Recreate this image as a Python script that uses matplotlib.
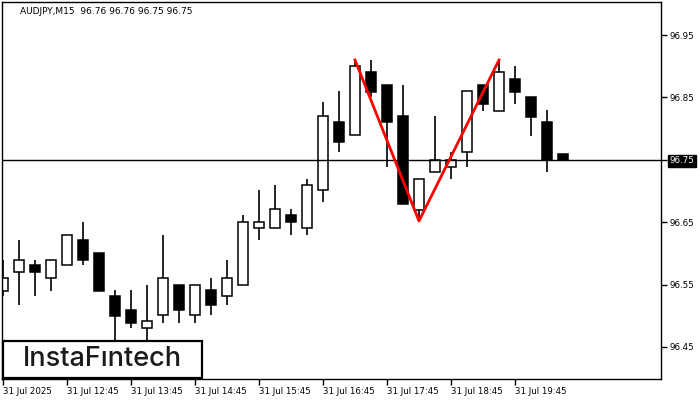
import matplotlib.pyplot as plt
from matplotlib.patches import Rectangle
import numpy as np

# AUDJPY M15 candles, 11:45 .. 20:30
opens = [96.539, 96.571, 96.581, 96.560, 96.581, 96.621, 96.600, 96.531, 96.510, 96.480,
         96.501, 96.550, 96.501, 96.541, 96.531, 96.550, 96.640, 96.640, 96.661, 96.640,
         96.701, 96.811, 96.790, 96.891, 96.870, 96.821, 96.670, 96.731, 96.739, 96.762,
         96.870, 96.829, 96.880, 96.851, 96.811, 96.760]
highs = [96.590, 96.621, 96.590, 96.590, 96.630, 96.651, 96.600, 96.541, 96.541, 96.550,
         96.630, 96.550, 96.550, 96.560, 96.590, 96.661, 96.701, 96.710, 96.671, 96.720,
         96.842, 96.861, 96.910, 96.910, 96.870, 96.870, 96.720, 96.821, 96.762, 96.861,
         96.870, 96.910, 96.901, 96.851, 96.830, 96.760]
lows = [96.531, 96.518, 96.531, 96.539, 96.581, 96.581, 96.539, 96.450, 96.480, 96.450,
        96.489, 96.489, 96.489, 96.501, 96.518, 96.550, 96.621, 96.640, 96.630, 96.630,
        96.682, 96.762, 96.790, 96.850, 96.739, 96.680, 96.654, 96.731, 96.720, 96.739,
        96.829, 96.829, 96.840, 96.789, 96.730, 96.750]
closes = [96.560, 96.590, 96.570, 96.590, 96.630, 96.590, 96.539, 96.499, 96.489, 96.491,
          96.560, 96.509, 96.550, 96.518, 96.560, 96.651, 96.651, 96.671, 96.650, 96.710,
          96.821, 96.779, 96.901, 96.859, 96.810, 96.680, 96.720, 96.750, 96.750, 96.861,
          96.840, 96.891, 96.859, 96.819, 96.750, 96.750]

tick_idx = [0, 4, 8, 12, 16, 20, 24, 28, 32]
tick_labels = ["31 Jul 2025", "31 Jul 12:45", "31 Jul 13:45", "31 Jul 14:45", "31 Jul 15:45",
               "31 Jul 16:45", "31 Jul 17:45", "31 Jul 18:45", "31 Jul 19:45"]
price_ticks = [96.45, 96.55, 96.65, 96.75, 96.85, 96.95]

# double top pattern line
pattern_idx = [22, 26, 31]
pattern_px = [96.910, 96.652, 96.910]

current_price = 96.75
title = "AUDJPY,M15  96.76 96.76 96.75 96.75"

fig = plt.figure(figsize=(7, 4), dpi=100)
ax = fig.add_axes([2 / 700, 21 / 400, 659 / 700, 377 / 400])

x = np.arange(len(opens))
o = np.array(opens)
c = np.array(closes)
up = c >= o

ax.vlines(x, lows, highs, color="black", linewidth=1.2, zorder=1)
bottoms = np.minimum(o, c)
heights = np.maximum(np.abs(c - o), 0.0008)
ax.bar(x, heights, width=0.62, bottom=bottoms,
       color=np.where(up, "white", "black"), edgecolor="black", linewidth=1.1, zorder=2)

ax.axhline(current_price, color="black", linewidth=1.0, zorder=3)
ax.plot(pattern_idx, pattern_px, color="red", linewidth=2.0, zorder=4)

ax.set_xlim(-0.0625, 41.125)
ax.set_ylim(96.3987, 97.003)

ax.set_xticks(tick_idx)
ax.set_xticklabels(tick_labels, fontsize=6.2, ha="left")
ax.tick_params(axis="x", direction="out", length=4, width=1, pad=2)

ax.yaxis.tick_right()
ax.set_yticks(price_ticks)
ax.set_yticklabels([f"{p:.2f}" for p in price_ticks], fontsize=6.3)
ax.tick_params(axis="y", direction="out", length=4, width=1, pad=2)
for lab in ax.get_yticklabels():
    if lab.get_text() == f"{current_price:.2f}":
        lab.set_color("white")
        lab.set_bbox(dict(facecolor="black", edgecolor="black", pad=1.2))

for s in ax.spines.values():
    s.set_linewidth(1.0)

ax.text(18 / 659, 1 - 9 / 377, title, transform=ax.transAxes, fontsize=6.5,
        va="center", ha="left")

# logo box (figure pixel coords)
fig.patches.append(Rectangle((3 / 700, 1 - 378 / 400), 199 / 700, 37 / 400,
                             transform=fig.transFigure, facecolor="white",
                             edgecolor="black", linewidth=1.6, zorder=6))
fig.text(102.5 / 700, 1 - 359.5 / 400, "InstaF\u0131ntech", fontsize=19.5, family="Inter",
         weight="medium", ha="center", va="center", color="#1a1a1a", zorder=7)

fig.savefig("out.png", dpi=100)
